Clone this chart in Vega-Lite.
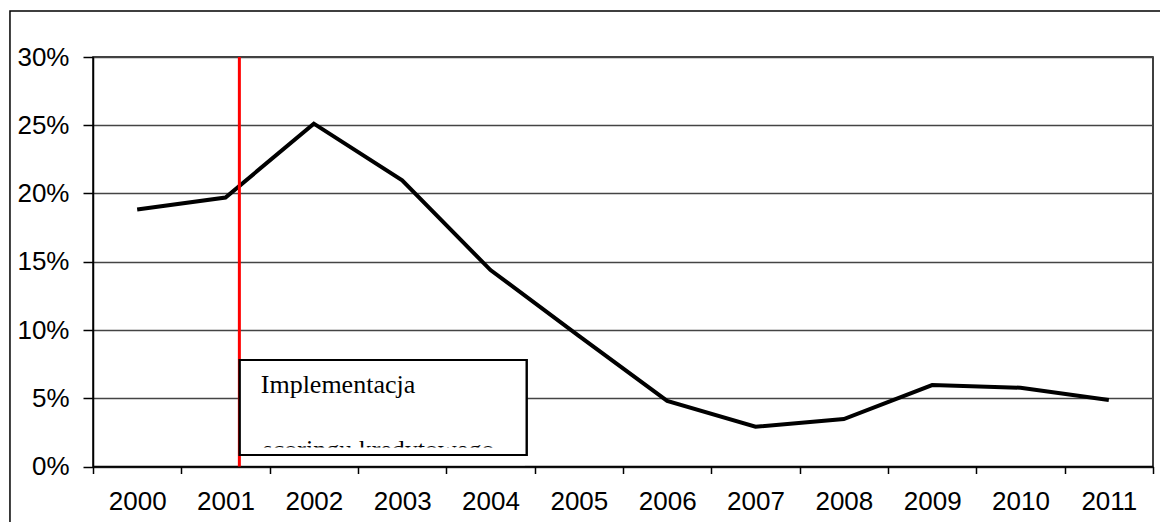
{
  "$schema": "https://vega.github.io/schema/vega-lite/v6.json",
  "autosize": {"type": "none"},
  "width": 1060,
  "height": 409.5,
  "padding": {"left": 93, "top": 57, "right": 7, "bottom": 55.5},
  "background": "white",
  "config": {
    "view": {"stroke": "black", "strokeWidth": 1.5},
    "font": "Liberation Sans"
  },
  "datasets": {
    "series": [
      {"year": 2000, "value": 0.1883},
      {"year": 2001, "value": 0.197},
      {"year": 2002, "value": 0.2512},
      {"year": 2003, "value": 0.2097},
      {"year": 2004, "value": 0.1439},
      {"year": 2005, "value": 0.0957},
      {"year": 2006, "value": 0.048},
      {"year": 2007, "value": 0.0291},
      {"year": 2008, "value": 0.0348},
      {"year": 2009, "value": 0.0597},
      {"year": 2010, "value": 0.0577},
      {"year": 2011, "value": 0.0487}
    ],
    "marker": [{"x": 2001.157}],
    "box": [{"x1": 2001.16, "x2": 2004.41, "y1": 0.0084, "y2": 0.078}],
    "cover": [{"x1": 2001.18, "x2": 2004.39, "y1": 0.001, "y2": 0.0139}],
    "labels": [
      {"x": 2001.399, "y": 0.0538, "label": "Implementacja"},
      {"x": 2001.42, "y": 0.0062, "label": "scoringu kredytowego"}
    ],
    "frame": [{"x1": 1998.56, "x2": 2012.5, "y1": 0.3337, "y2": -0.05}]
  },
  "layer": [
    {
      "data": {"name": "series"},
      "mark": {"type": "line", "color": "black", "strokeWidth": 4, "strokeJoin": "miter"},
      "encoding": {
        "x": {
          "field": "year", "type": "quantitative",
          "scale": {"domain": [1999.5, 2011.5], "nice": false, "zero": false},
          "axis": {
            "title": null,
            "values": [1999.5, 2000.5, 2001.5, 2002.5, 2003.5, 2004.5, 2005.5, 2006.5, 2007.5, 2008.5, 2009.5, 2010.5, 2011.5],
            "labelExpr": "datum.value > 2011 ? '' : format(datum.value + 0.5, 'd')",
            "labelOffset": 44.2,
            "labelOverlap": false,
            "labelBound": false,
            "labelFlush": false,
            "labelFontSize": 26,
            "labelColor": "black",
            "labelPadding": 15,
            "tickSize": 7,
            "tickColor": "black",
            "tickWidth": 1.5,
            "domainColor": "black",
            "domainWidth": 1.5,
            "grid": false
          }
        },
        "y": {
          "field": "value", "type": "quantitative",
          "scale": {"domain": [0, 0.3], "nice": false},
          "axis": {
            "title": null,
            "values": [0, 0.05, 0.1, 0.15, 0.2, 0.25, 0.3],
            "format": ".0%",
            "labelFontSize": 26,
            "labelColor": "black",
            "labelPadding": 14,
            "tickSize": 10,
            "tickColor": "black",
            "tickWidth": 1.5,
            "domainColor": "black",
            "domainWidth": 1.5,
            "grid": true,
            "gridColor": "#444444",
            "gridWidth": 1.3
          }
        }
      }
    },
    {
      "data": {"name": "marker"},
      "mark": {"type": "rule", "color": "#ff0000", "strokeWidth": 3},
      "encoding": {"x": {"field": "x", "type": "quantitative"}}
    },
    {
      "data": {"name": "box"},
      "mark": {"type": "rect", "fill": "white", "stroke": "black", "strokeWidth": 2},
      "encoding": {
        "x": {"field": "x1", "type": "quantitative"},
        "x2": {"field": "x2"},
        "y": {"field": "y1", "type": "quantitative"},
        "y2": {"field": "y2"}
      }
    },
    {
      "data": {"name": "labels"},
      "mark": {"type": "text", "font": "Liberation Serif", "fontSize": 26, "align": "left", "baseline": "alphabetic", "color": "black"},
      "encoding": {
        "x": {"field": "x", "type": "quantitative"},
        "y": {"field": "y", "type": "quantitative"},
        "text": {"field": "label"}
      }
    },
    {
      "data": {"name": "cover"},
      "mark": {"type": "rect", "fill": "white", "strokeWidth": 0},
      "encoding": {
        "x": {"field": "x1", "type": "quantitative"},
        "x2": {"field": "x2"},
        "y": {"field": "y1", "type": "quantitative"},
        "y2": {"field": "y2"}
      }
    },
    {
      "data": {"name": "box"},
      "mark": {"type": "rect", "fill": null, "fillOpacity": 0, "stroke": "black", "strokeWidth": 2},
      "encoding": {
        "x": {"field": "x1", "type": "quantitative"},
        "x2": {"field": "x2"},
        "y": {"field": "y1", "type": "quantitative"},
        "y2": {"field": "y2"}
      }
    },
    {
      "data": {"name": "frame"},
      "mark": {"type": "rect", "fillOpacity": 0, "stroke": "black", "strokeWidth": 1.5, "clip": false},
      "encoding": {
        "x": {"field": "x1", "type": "quantitative"},
        "x2": {"field": "x2"},
        "y": {"field": "y1", "type": "quantitative"},
        "y2": {"field": "y2"}
      }
    }
  ]
}
